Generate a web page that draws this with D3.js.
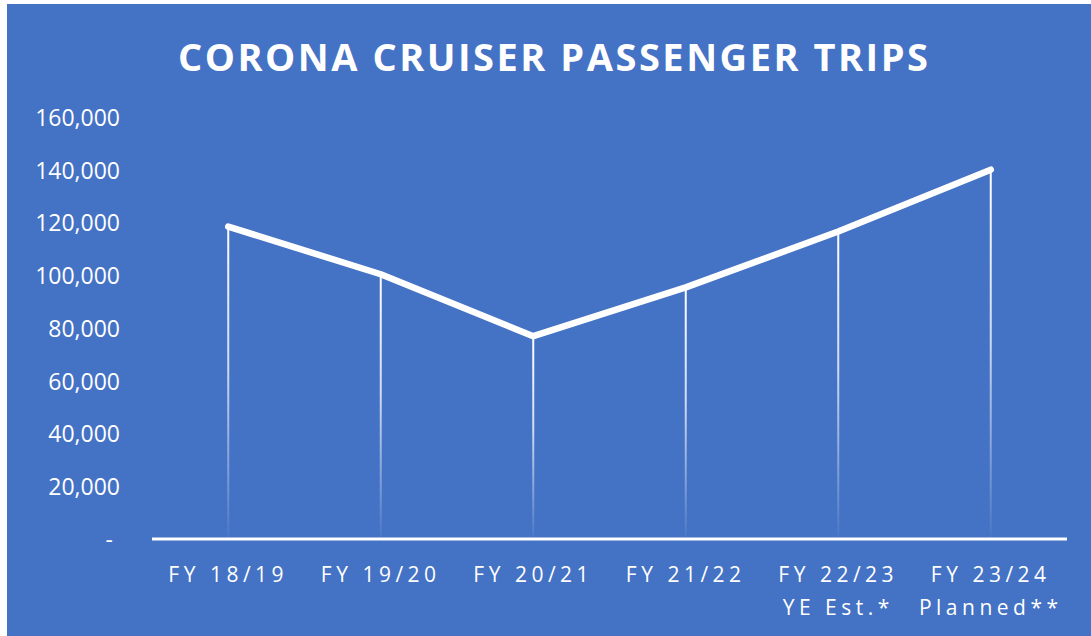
<!DOCTYPE html>
<html>
<head>
<meta charset="utf-8">
<script src="https://cdn.jsdelivr.net/npm/d3@7"></script>
<style>
  html, body { margin: 0; padding: 0; background: #ffffff; }
  svg { display: block; }
</style>
</head>
<body>
<svg id="chart" width="1091" height="636"></svg>
<script>
const categories = ["FY 18/19", "FY 19/20", "FY 20/21", "FY 21/22", "FY 22/23", "FY 23/24"];
const subLabels = ["", "", "", "", "YE Est.*", "Planned**"];
const values = [118600, 100500, 77000, 95500, 116700, 140200];
const yTicks = [0, 20000, 40000, 60000, 80000, 100000, 120000, 140000, 160000];
const title = "CORONA CRUISER PASSENGER TRIPS";

const W = 1091, H = 636;
const svg = d3.select("#chart");
const font = "'Open Sans', 'DejaVu Sans', sans-serif";

// background
svg.append("rect").attr("x", 0).attr("y", 0).attr("width", W).attr("height", H).attr("fill", "#ffffff");
svg.append("rect").attr("x", 7).attr("y", 4).attr("width", W - 7).attr("height", H - 4).attr("fill", "#4472C4");

const x = d3.scalePoint().domain(categories).range([152, 1067]).padding(0.5);
const y = d3.scaleLinear().domain([0, 160000]).range([539, 117.5]);

// title
svg.append("text")
  .attr("x", 553).attr("y", 71)
  .attr("text-anchor", "middle")
  .attr("fill", "#ffffff")
  .attr("font-family", font)
  .attr("font-weight", 700)
  .attr("font-size", 38)
  .attr("textLength", 750)
  .attr("lengthAdjust", "spacing")
  .text(title);

// y axis labels
const yAxis = d3.axisLeft(y).tickValues(yTicks).tickSize(0).tickPadding(0)
  .tickFormat(d => d === 0 ? "-" : d3.format(",")(d));
const gy = svg.append("g").attr("transform", "translate(120,0)").call(yAxis);
gy.select(".domain").remove();
gy.selectAll("text")
  .attr("fill", "#ffffff")
  .attr("font-family", font)
  .attr("font-size", 23)
  .attr("dy", "0.35em");
gy.selectAll(".tick").filter(d => d === 0).select("text").attr("x", -7);

// drop lines with gradient
const defs = svg.append("defs");
categories.forEach((c, i) => {
  const g = defs.append("linearGradient")
    .attr("id", "drop" + i)
    .attr("gradientUnits", "userSpaceOnUse")
    .attr("x1", 0).attr("x2", 0)
    .attr("y1", y(values[i])).attr("y2", y(0));
  g.append("stop").attr("offset", "0%").attr("stop-color", "#ffffff").attr("stop-opacity", 1);
  g.append("stop").attr("offset", "45%").attr("stop-color", "#ffffff").attr("stop-opacity", 0.75);
  g.append("stop").attr("offset", "100%").attr("stop-color", "#ffffff").attr("stop-opacity", 0.03);
});
svg.append("g").selectAll("rect").data(categories).join("rect")
  .attr("x", d => x(d) - 1)
  .attr("y", (d, i) => y(values[i]))
  .attr("width", 2)
  .attr("height", (d, i) => y(0) - y(values[i]))
  .attr("fill", (d, i) => `url(#drop${i})`);

// x axis line
const xAxis = d3.axisBottom(x).tickSize(0).tickFormat("");
const gx = svg.append("g").attr("transform", `translate(0,${y(0)})`).call(xAxis);
gx.select(".domain").attr("stroke", "#ffffff").attr("stroke-width", 3).attr("d", "M152,0H1067");

// x labels
svg.append("g").selectAll("text").data(categories).join("text")
  .attr("x", d => x(d))
  .attr("y", 582)
  .attr("text-anchor", "middle")
  .attr("fill", "#ffffff")
  .attr("font-family", font)
  .attr("font-size", 21)
  .attr("letter-spacing", 4.5)
  .text(d => d);
svg.append("g").selectAll("text").data(categories).join("text")
  .attr("x", d => x(d))
  .attr("y", 615)
  .attr("text-anchor", "middle")
  .attr("fill", "#ffffff")
  .attr("font-family", font)
  .attr("font-size", 21)
  .attr("letter-spacing", 4.5)
  .text((d, i) => subLabels[i]);

// main line
const line = d3.line().x((d, i) => x(categories[i])).y(d => y(d));
svg.append("path")
  .datum(values)
  .attr("d", line)
  .attr("fill", "none")
  .attr("stroke", "#ffffff")
  .attr("stroke-width", 6.5)
  .attr("stroke-linecap", "round")
  .attr("stroke-linejoin", "round");
</script>
</body>
</html>
